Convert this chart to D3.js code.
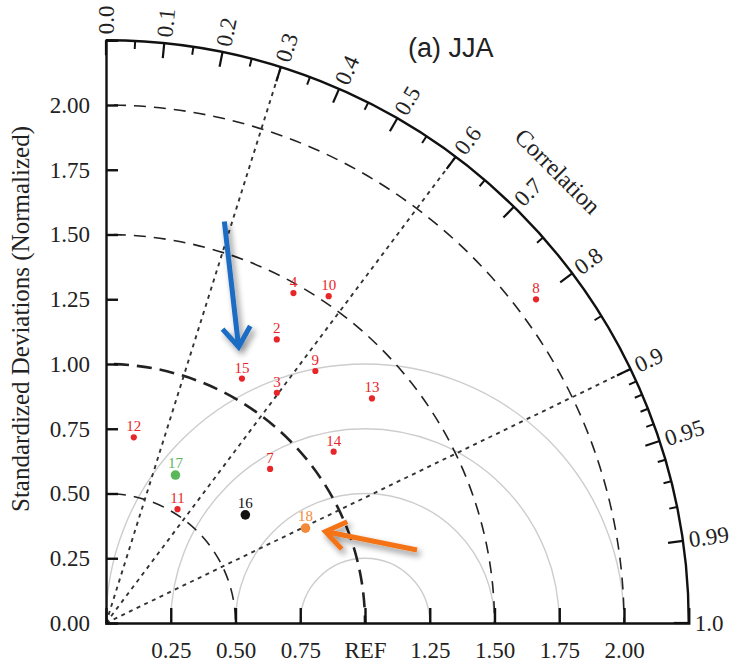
<!DOCTYPE html>
<html><head><meta charset="utf-8">
<script src="https://cdn.jsdelivr.net/npm/d3@7"></script>
<style>body{margin:0;background:#fff}</style>
</head><body>
<svg id="c" width="735" height="664"></svg>
<script>
// ---------- data ----------
const modelLabels = ["2","3","4","7","8","9","10","11","12","13","14","15","16","17","18"];
const stdValues   = [1.278,1.107,1.465,0.869,2.078,1.265,1.527,0.519,0.725,1.344,1.100,1.080,0.681,0.631,0.853];
const corrValues  = [0.516,0.596,0.494,0.729,0.799,0.639,0.563,0.532,0.148,0.764,0.799,0.486,0.790,0.425,0.903];
const highlightLabels = ["16","17","18"];
const xTickValues = [0.25,0.5,0.75,1.0,1.25,1.5,1.75,2.0];
const xTickLabels = ["0.25","0.50","0.75","REF","1.25","1.50","1.75","2.00"];
const yTickValues = [0,0.25,0.5,0.75,1.0,1.25,1.5,1.75,2.0];
const yTickLabels = ["0.00","0.25","0.50","0.75","1.00","1.25","1.50","1.75","2.00"];
const corrMajor = [0,0.1,0.2,0.3,0.4,0.5,0.6,0.7,0.8,0.9,0.95,0.99,1.0];
const corrMajorLabels = ["0.0","0.1","0.2","0.3","0.4","0.5","0.6","0.7","0.8","0.9","0.95","0.99","1.0"];
const corrMinor = [0.05,0.15,0.25,0.35,0.45,0.55,0.65,0.75,0.85,0.91,0.92,0.93,0.94,0.96,0.97,0.98];
const stdArcs = [0.5,1.0,1.5,2.0];
const rmsArcs = [0.25,0.5,0.75,1.0];
const corrLines = [0.3,0.6,0.9];
const stdMax = 2.25;
const refStd = 1.0;
const title = "(a) JJA";
const yTitle = "Standardized Deviations (Normalized)";
const corrTitle = "Correlation";
// annotation arrows (std-units, cartesian): [x0,y0,x1,y1]
const arrowBlue = [0.457,1.550,0.512,1.066];
const arrowOrange = [1.201,0.282,0.847,0.353];

// ---------- layout ----------
const svg = d3.select("#c");
const ox = 106, oy = 623, Rpx = 582.75;
const x = d3.scaleLinear().domain([0, stdMax]).range([ox, ox + Rpx]);
const y = d3.scaleLinear().domain([0, stdMax]).range([oy, oy - Rpx]);
const r = d3.scaleLinear().domain([0, stdMax]).range([0, Rpx]);
const serif = "'Liberation Serif','Times New Roman',serif";
const colorOf = d3.scaleOrdinal().domain(["16","17","18"]).range(["#111","#5bb85a","#f28a3a"]).unknown("#e8262a");
const polar = (s, c) => { const t = Math.acos(c); return [x(s*Math.cos(t)), y(s*Math.sin(t))]; };

const defs = svg.append("defs");
const f = defs.append("filter").attr("id","sh").attr("x","-50%").attr("y","-50%").attr("width","200%").attr("height","200%");
f.append("feGaussianBlur").attr("in","SourceAlpha").attr("stdDeviation",3).attr("result","b");
f.append("feOffset").attr("in","b").attr("dx",3).attr("dy",4).attr("result","o");
f.append("feComponentTransfer").attr("in","o").attr("result","o2").append("feFuncA").attr("type","linear").attr("slope",0.45);
const m = f.append("feMerge"); m.append("feMergeNode").attr("in","o2"); m.append("feMergeNode").attr("in","SourceGraphic");

// RMS arcs (gray)
svg.append("g").selectAll("path").data(rmsArcs).join("path")
  .attr("d", d => { const p = d3.path(); p.arc(x(refStd), oy, r(d), Math.PI, 2*Math.PI); return p.toString(); })
  .attr("fill","none").attr("stroke","#cdcdcd").attr("stroke-width",1.4);

// std dashed arcs
svg.append("g").selectAll("path").data(stdArcs).join("path")
  .attr("d", d => { const p = d3.path(); p.arc(ox, oy, r(d), -Math.PI/2, 0); return p.toString(); })
  .attr("fill","none").attr("stroke","#222")
  .attr("stroke-width", d => d === 1.0 ? 2.6 : 1.6)
  .attr("stroke-dasharray", d => d === 1.0 ? "15,8" : "12,8")
  .attr("stroke-dashoffset", -8);

// correlation dotted lines
svg.append("g").selectAll("line").data(corrLines).join("line")
  .attr("x1", ox).attr("y1", oy)
  .attr("x2", d => polar(stdMax, d)[0]).attr("y2", d => polar(stdMax, d)[1])
  .attr("stroke","#333").attr("stroke-width",1.9).attr("stroke-dasharray","4,4.5");

// outer arc
svg.append("path").attr("d", () => { const p = d3.path(); p.arc(ox, oy, r(stdMax), -Math.PI/2, 0); return p.toString(); })
  .attr("fill","none").attr("stroke","#111").attr("stroke-width",2.4);

// axes
const xAxis = d3.axisBottom(x).tickValues(xTickValues).tickSize(-15).tickPadding(19)
  .tickFormat((d,i) => xTickLabels[i]);
const gx = svg.append("g").attr("transform",`translate(0,${oy})`).call(xAxis);
const yAxis = d3.axisLeft(y).tickValues(yTickValues).tickSize(-12).tickPadding(16)
  .tickFormat((d,i) => yTickLabels[i]);
const gy = svg.append("g").attr("transform",`translate(${ox},0)`).call(yAxis);
[gx, gy].forEach(g => {
  g.select(".domain").attr("stroke","#111").attr("stroke-width",2.4);
  g.selectAll(".tick line").attr("stroke","#111").attr("stroke-width",2.4);
  g.selectAll(".tick text").attr("font-family",serif).attr("font-size",23).attr("fill","#222");
});
gy.selectAll(".tick").filter(d => d === 0).select("line").remove();

// correlation ticks
const tickG = svg.append("g");
const tk = (c, len, w) => {
  const [x1,y1] = polar(stdMax, c); const t = Math.acos(c);
  tickG.append("line").attr("x1",x1).attr("y1",y1)
    .attr("x2", x1 - len*Math.cos(t)).attr("y2", y1 + len*Math.sin(t))
    .attr("stroke","#111").attr("stroke-width",w);
};
corrMajor.forEach(c => tk(c, 15, 2.2));
corrMinor.forEach(c => tk(c, 8, 2));
svg.append("g").selectAll("text").data(corrMajor).join("text")
  .attr("transform", d => { const t = Math.acos(d); const rr = Rpx + 6;
     return `translate(${ox + rr*Math.cos(t)},${oy - rr*Math.sin(t)}) rotate(${-t*180/Math.PI})`; })
  .attr("text-anchor","start").attr("dominant-baseline","central")
  .attr("font-family",serif).attr("font-size",23).attr("fill","#222")
  .text((d,i) => corrMajorLabels[i]);

// titles
const ct = Math.PI/4, cr = Rpx + 56;
svg.append("text").attr("transform",`translate(${ox + cr*Math.cos(ct)},${oy - cr*Math.sin(ct)}) rotate(45)`)
  .attr("text-anchor","middle").attr("dominant-baseline","central")
  .attr("font-family",serif).attr("font-size",24).attr("fill","#222").text(corrTitle);
svg.append("text").attr("transform","translate(29,319) rotate(-90)")
  .attr("text-anchor","middle").attr("font-family",serif).attr("font-size",25).attr("fill","#222").text(yTitle);
svg.append("text").attr("x",408).attr("y",57)
  .attr("font-family","'Liberation Sans',Arial,sans-serif").attr("font-size",27).attr("fill","#222").text(title);

// points
const pts = modelLabels.map((l,i) => ({label:l, s:stdValues[i], c:corrValues[i]}));
const pg = svg.append("g").selectAll("g").data(pts).join("g")
  .attr("transform", d => `translate(${polar(d.s,d.c)})`);
pg.append("circle").attr("r", d => highlightLabels.includes(d.label) ? 4.8 : 3.1)
  .attr("fill", d => colorOf(d.label));
pg.append("text").attr("y", d => highlightLabels.includes(d.label) ? -7 : -6).attr("text-anchor","middle")
  .attr("font-family",serif).attr("font-size",15).attr("fill", d => colorOf(d.label)).text(d => d.label);

// annotation arrows
function arrow(a, col) {
  const [x0,y0,x1,y1] = [x(a[0]), y(a[1]), x(a[2]), y(a[3])];
  const ang = Math.atan2(y1-y0, x1-x0), L = 24, sp = 0.62;
  const g = svg.append("g").attr("filter","url(#sh)");
  g.append("path")
   .attr("d", `M${x0},${y0}L${x1},${y1}M${x1 - L*Math.cos(ang-sp)},${y1 - L*Math.sin(ang-sp)}L${x1},${y1}L${x1 - L*Math.cos(ang+sp)},${y1 - L*Math.sin(ang+sp)}`)
   .attr("fill","none").attr("stroke",col).attr("stroke-width",5).attr("stroke-linecap","butt").attr("stroke-linejoin","miter");
}
arrow(arrowBlue, "#1a6cc4");
arrow(arrowOrange, "#f47318");
</script>
</body></html>
